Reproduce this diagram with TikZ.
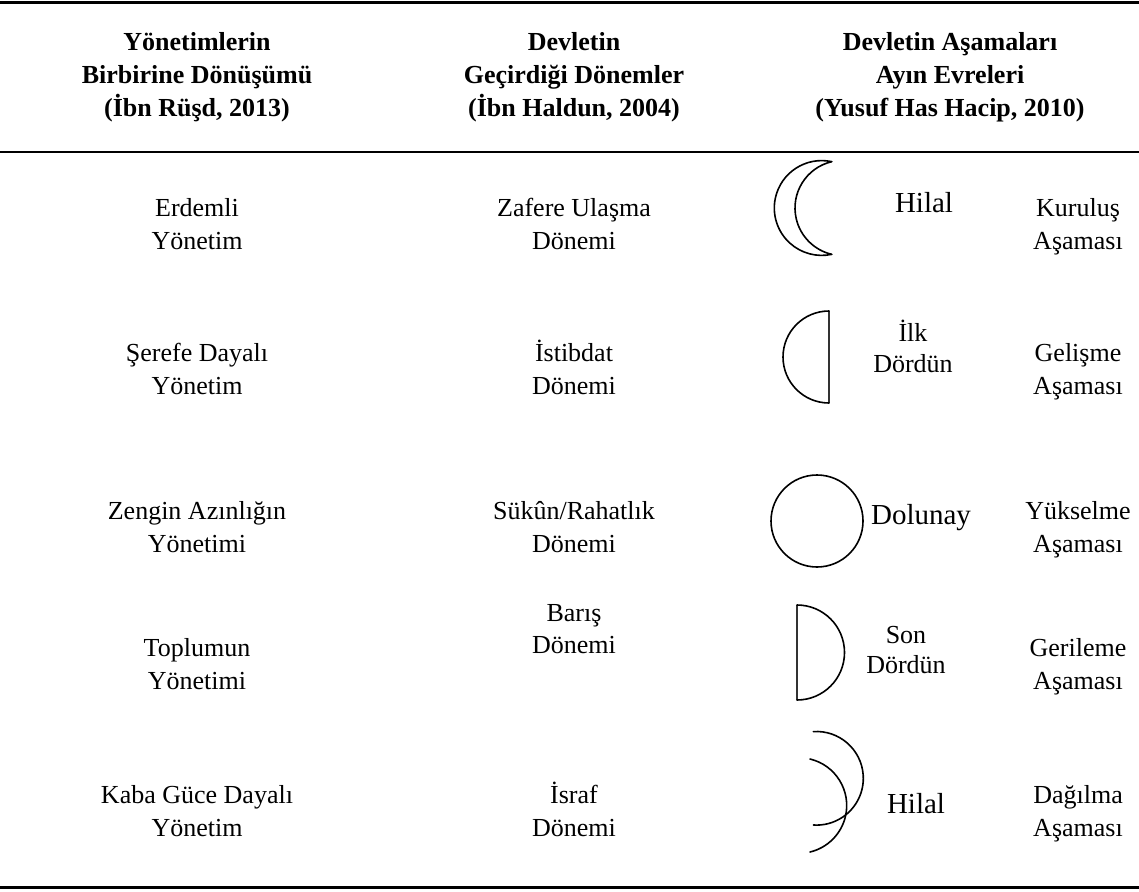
\documentclass[tikz,border=0pt]{standalone}
\usepackage{fontspec}
\setmainfont{Liberation Serif}
\tikzset{
  rule/.style={line width=2.7pt},
  moon/.style={line width=1.6pt, line cap=round},
  flat/.style={line width=1.1pt, draw=black!80},
  body/.style={font=\fontsize{26}{31}\selectfont, inner sep=0pt, anchor=base},
  head/.style={font=\bfseries\fontsize{26}{31}\selectfont, inner sep=0pt, anchor=base},
  big/.style={font=\fontsize{29}{34}\selectfont, inner sep=0pt, anchor=base},
}
\begin{document}
\begin{tikzpicture}[x=1pt,y=-1pt]
\useasboundingbox (0,0) rectangle (1139,891);
% rules
\coordinate (r1a) at (0,2.8);   \coordinate (r1b) at (1139,2.8);
\coordinate (r2a) at (0,152);   \coordinate (r2b) at (1139,152);
\coordinate (r3a) at (0,887.5); \coordinate (r3b) at (1139,887.5);
\draw[rule] (r1a) -- (r1b);
\draw[rule] (r2a) -- (r2b);
\draw[rule] (r3a) -- (r3b);
% header
\node[head] (h11) at (197,50) {Yönetimlerin};
\node[head] (h12) at (197,83) {Birbirine Dönüşümü};
\node[head] (h13) at (197,116) {(İbn Rüşd, 2013)};
\node[head] (h21) at (574,50) {Devletin};
\node[head] (h22) at (574,83) {Geçirdiği Dönemler};
\node[head] (h23) at (574,116) {(İbn Haldun, 2004)};
\node[head] (h31) at (950,50) {Devletin Aşamaları};
\node[head] (h32) at (950,83) {Ayın Evreleri};
\node[head] (h33) at (950,116) {(Yusuf Has Hacip, 2010)};
% column 1
\node[body] (a1) at (197,216) {Erdemli};
\node[body] (a1b) at (197,249) {Yönetim};
\node[body] (a2) at (197,361) {Şerefe Dayalı};
\node[body] (a2b) at (197,394) {Yönetim};
\node[body] (a3) at (197,519) {Zengin Azınlığın};
\node[body] (a3b) at (197,552) {Yönetimi};
\node[body] (a4) at (197,656) {Toplumun};
\node[body] (a4b) at (197,689) {Yönetimi};
\node[body] (a5) at (197,803) {Kaba Güce Dayalı};
\node[body] (a5b) at (197,836) {Yönetim};
% column 2
\node[body] (b1) at (574,216) {Zafere Ulaşma};
\node[body] (b1b) at (574,249) {Dönemi};
\node[body] (b2) at (574,361) {İstibdat};
\node[body] (b2b) at (574,394) {Dönemi};
\node[body] (b3) at (574,519) {Sükûn/Rahatlık};
\node[body] (b3b) at (574,552) {Dönemi};
\node[body] (b4) at (574,621) {Barış};
\node[body] (b4b) at (574,653) {Dönemi};
\node[body] (b5) at (574,803) {İsraf};
\node[body] (b5b) at (574,836) {Dönemi};
% moon labels
\node[big] (m1) at (924,212) {Hilal};
\node[body] (m2) at (913,341) {İlk};
\node[body] (m2b) at (913,372) {Dördün};
\node[big] (m3) at (921,524) {Dolunay};
\node[body] (m4) at (906,643) {Son};
\node[body] (m4b) at (906,673) {Dördün};
\node[big] (m5) at (916,813) {Hilal};
% column 3
\node[body] (c1) at (1078,216) {Kuruluş};
\node[body] (c1b) at (1078,249) {Aşaması};
\node[body] (c2) at (1078,361) {Gelişme};
\node[body] (c2b) at (1078,394) {Aşaması};
\node[body] (c3) at (1078,519) {Yükselme};
\node[body] (c3b) at (1078,552) {Aşaması};
\node[body] (c4) at (1078,656) {Gerileme};
\node[body] (c4b) at (1078,689) {Aşaması};
\node[body] (c5) at (1078,803) {Dağılma};
\node[body] (c5b) at (1078,836) {Aşaması};
% moons
\draw[moon] (821.7,208) ++(77.8:47.4pt) arc[start angle=77.8, end angle=282.2, radius=47.4pt];
\draw[moon] (842.6,208) ++(103.2:47.6pt) arc[start angle=103.2, end angle=256.8, radius=47.6pt];
\draw[flat] (829,311) -- (829,403);
\draw[moon] (829,403) arc[start angle=270, end angle=90, radius=46pt];
\draw[moon] (817,521) circle[radius=46pt];
\draw[flat] (797,605) -- (797,700);
\draw[moon] (797,700) arc[start angle=270, end angle=450, radius=47.5pt];
\draw[moon] (816.5,778.3) ++(93.9:46.8pt) arc[start angle=93.9, end angle=-93.9, radius=46.8pt];
\draw[moon] (798.9,805.5) ++(76.6:47.8pt) arc[start angle=76.6, end angle=-76.6, radius=47.8pt];
\end{tikzpicture}
\end{document}
